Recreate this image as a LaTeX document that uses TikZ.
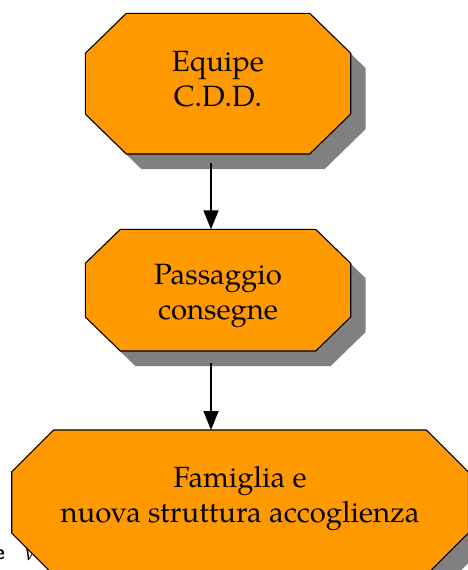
\documentclass[tikz,border=0pt]{standalone}
\usepackage{fontspec}
\setmainfont{TeX Gyre Pagella}
\usetikzlibrary{arrows.meta}
\definecolor{boxorange}{HTML}{FF9900}
\definecolor{shadowgray}{HTML}{808080}
\tikzset{
  octfill/.style={fill=boxorange, draw=black, line width=1.1pt, line join=miter},
  octshadow/.style={fill=shadowgray},
  boxarea/.style={draw=none, inner sep=0pt, outer sep=0pt},
  labeltext/.style={font=\fontsize{29.3}{35}\selectfont, align=center, text=black, inner sep=0pt},
  flowarrow/.style={draw=black, line width=1.6pt, -{Triangle[length=19pt,width=15pt]}},
  fragtext/.style={inner sep=0pt, text=black}
}
% #1 L, #2 T, #3 R, #4 B, #5 cut x, #6 cut y
\newcommand{\myoctbox}[6]{%
  \fill[octshadow] (#1+#5+15,#2+15) -- (#3-#5+15,#2+15) -- (#3+15,#2+#6+15) -- (#3+15,#4-#6+15)
    -- (#3-#5+15,#4+15) -- (#1+#5+15,#4+15) -- (#1+15,#4-#6+15) -- (#1+15,#2+#6+15) -- cycle;
  \draw[octfill] (#1+#5,#2) -- (#3-#5,#2) -- (#3,#2+#6) -- (#3,#4-#6)
    -- (#3-#5,#4) -- (#1+#5,#4) -- (#1,#4-#6) -- (#1,#2+#6) -- cycle;
}
\begin{document}
\begin{tikzpicture}[x=1pt,y=-1pt]
\useasboundingbox (0,0) rectangle (467,570);
% cut-off fragments of text at the lower left
\node[fragtext, anchor=base east, font=\sffamily\bfseries\fontsize{21}{21}\selectfont] (fragE) at (5,559) {e};
\node[fragtext, anchor=base west, font=\itshape\fontsize{20}{20}\selectfont] (fragV) at (23,560) {V};
% boxes
\myoctbox{85.3}{13.3}{350.7}{154}{41}{40}
\myoctbox{85.3}{229.3}{350.7}{351}{35}{34}
\myoctbox{11.7}{430}{468.3}{575}{42}{42}
\node[boxarea, minimum width=265.4pt, minimum height=140.7pt] (equipe) at (218,83.65) {};
\node[boxarea, minimum width=265.4pt, minimum height=121.7pt] (passaggio) at (218,290.15) {};
\node[boxarea, minimum width=456.6pt, minimum height=145pt] (famiglia) at (240,502.5) {};
\node[labeltext] (tequipe) at (218,79.6) {Equipe\\C.D.D.};
\node[labeltext] (tpassaggio) at (218,295.7) {Passaggio\\consegne};
\node[labeltext] (tfamiglia) at (240,498.5) {Famiglia e\\nuova struttura accoglienza};
% connectors
\coordinate (a1s) at ([xshift=-7pt,yshift=-9pt]equipe.south);
\coordinate (a2s) at ([xshift=-7pt,yshift=-12pt]passaggio.south);
\draw[flowarrow] (a1s) -- (a1s |- passaggio.north);
\draw[flowarrow] (a2s) -- (a2s |- famiglia.north);
\end{tikzpicture}
\end{document}
